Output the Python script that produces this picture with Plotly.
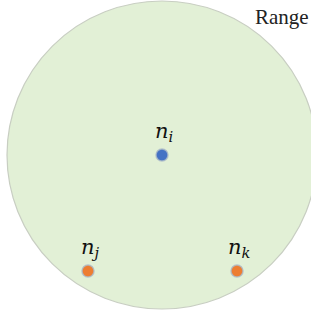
import plotly.graph_objects as go

# Data
node_names = ["i", "j", "k"]
node_x = [162, 88, 237]
node_y = [155, 271, 271]
node_colors = ["#4472c4", "#ed7d31", "#ed7d31"]
range_center = [162, 155]
range_radius = 155
range_label = "Range"

SERIF = "DejaVu Serif"

fig = go.Figure()

fig.add_shape(type="circle", xref="x", yref="y",
              x0=range_center[0] - range_radius, x1=range_center[0] + range_radius,
              y0=range_center[1] - 154, y1=range_center[1] + 154,
              fillcolor="#e2f0d6", line=dict(color="#c8cec2", width=1.2), layer="below")

fig.add_trace(go.Scatter(
    x=node_x, y=node_y, mode="markers",
    marker=dict(size=12, color=node_colors, line=dict(color="rgba(170,185,200,0.8)", width=1.5)),
    hoverinfo="skip", showlegend=False, cliponaxis=False))

for name, x, y in zip(node_names, node_x, node_y):
    fig.add_annotation(x=x, y=y - 8, xref="x", yref="y",
                       text=f"<i>n</i><sub><i>{name}</i></sub>",
                       showarrow=False, yanchor="bottom", xanchor="center",
                       xshift=2,
                       font=dict(family=SERIF, size=21, color="#111"))

fig.add_annotation(x=311, y=17, xref="x", yref="y", text=range_label, showarrow=False,
                   xanchor="right", yanchor="middle",
                   font=dict(family="Liberation Serif", size=21, color="#222"))

fig.update_layout(
    width=311, height=315, margin=dict(l=0, r=0, t=0, b=0),
    paper_bgcolor="white", plot_bgcolor="white",
    xaxis=dict(range=[0, 311], visible=False, fixedrange=True),
    yaxis=dict(range=[315, 0], visible=False, fixedrange=True),
)

fig.write_html("out.html", config={"displayModeBar": False},
               post_script="document.body.style.margin='0';document.body.style.overflow='hidden';")
